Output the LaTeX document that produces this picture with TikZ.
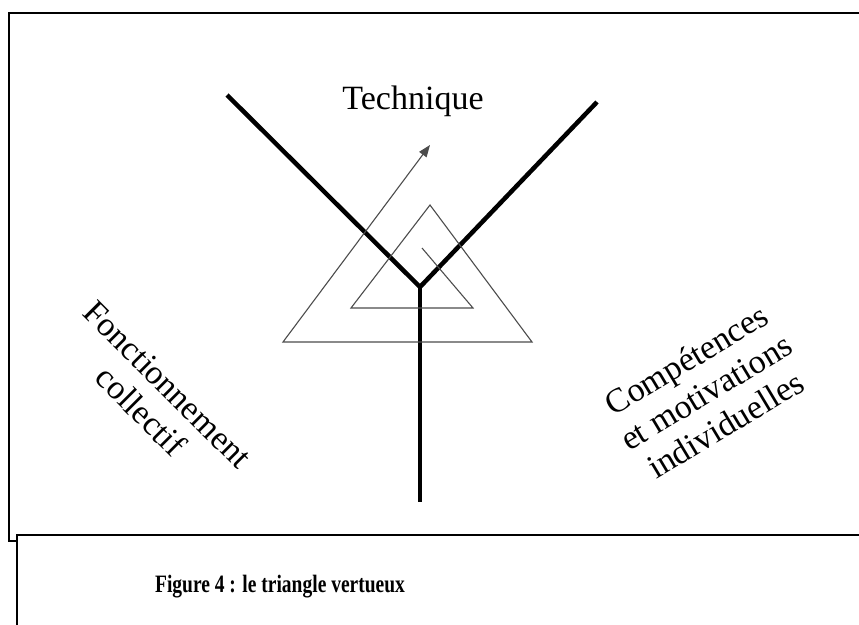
\documentclass[tikz,border=0pt]{standalone}
\usepackage{fontspec}
\setmainfont{Liberation Serif}
\usetikzlibrary{arrows.meta}

\begin{document}
\begin{tikzpicture}[x=1pt,y=-1pt,
  every node/.style={font=\fontsize{34}{38}\selectfont,align=center},
  yarm/.style={line width=4.5pt},
  spiral/.style={line width=1.1pt,black!70},
  frame/.style={line width=2pt}]
  \useasboundingbox (0,0) rectangle (859,624);
  \clip (0,0) rectangle (859,624);
  % frames
  \draw[frame] (9,13) rectangle (880,541);
  \draw[frame,fill=white] (17,535) rectangle (880,650);
  % the Y
  \coordinate (hub) at (420,287);
  \draw[yarm] (227,95) -- (hub) -- (597,102);
  \draw[yarm] (hub) -- (420,502);
  % spiral triangle
  \draw[spiral,-{Triangle[length=12pt,width=9pt]}]
    (422,248) -- (473,308) -- (351,308) -- (430,205) -- (532,342) -- (283,342) -- (430,145);
  % labels
  \node (tech) at (413,101) {Technique};
  \node[rotate=-45] (fonct) at (154,398) {Fonctionnement\\collectif};
  \node[rotate=31] (comp) at (706,392) {Compétences\\et motivations\\individuelles};
  \node[font=\fontsize{25}{29}\selectfont\bfseries] (cap) at (280,587)
    {\scalebox{0.78}[1]{Figure 4 : le triangle vertueux}};
\end{tikzpicture}
\end{document}
